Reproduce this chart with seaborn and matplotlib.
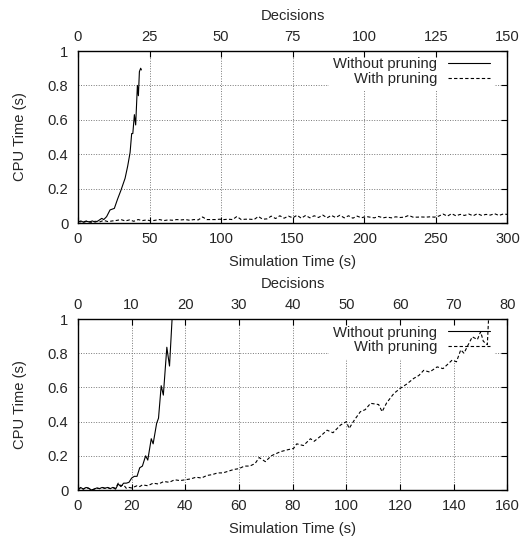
import matplotlib
matplotlib.use("Agg")
import matplotlib.pyplot as plt
import seaborn as sns
import numpy as np

# ---------------- data ----------------
# Top panel (Simulation time up to 300 s)
top_t_without = [0, 2, 4, 6, 8, 10, 12, 14, 16.6, 18, 20, 22.4, 25.4, 27.7, 30, 32.9,
                 34.7, 36.4, 37.5, 38.3, 39.4, 40.3, 41.5, 42.2, 42.9, 43.8, 44.3]
top_cpu_without = [0.005, 0.012, 0.004, 0.01, 0.006, 0.012, 0.005, 0.012, 0.027, 0.02,
                   0.037, 0.076, 0.085, 0.14, 0.19, 0.26, 0.33, 0.41, 0.52, 0.52,
                   0.63, 0.57, 0.80, 0.74, 0.88, 0.90, 0.89]

top_t_with = [0, 3, 6, 9, 12, 15, 18, 21, 24,
              27, 30, 33, 36, 39, 42, 45, 48, 51, 54, 57, 60, 63, 66, 69, 72, 75, 78, 81, 84, 87, 90,
              93, 96, 99, 102, 105, 108, 111, 114, 117, 120, 123, 126, 129,
              132, 135, 138, 141, 144, 147, 150, 153, 156, 159, 162, 165, 168, 171, 174, 177, 180,
              183, 186, 189, 192, 195, 198, 201,
              204, 207, 210, 213, 216, 219, 222, 225, 228, 231, 234, 237, 240, 243, 246, 249,
              252, 255, 258, 261, 264, 267, 270, 273, 276, 279, 282, 285, 288, 291, 294, 297, 300]
top_cpu_with = [0.01, 0.005, 0.012, 0.004, 0.01, 0.006, 0.015, 0.008, 0.012,
                0.015, 0.02, 0.012, 0.018, 0.01, 0.02, 0.014, 0.018, 0.012, 0.016, 0.02, 0.014,
                0.018, 0.016, 0.02, 0.018, 0.02, 0.016, 0.02, 0.018, 0.035, 0.02,
                0.02, 0.02, 0.022, 0.02, 0.022, 0.02, 0.038, 0.02, 0.022, 0.022, 0.02, 0.038, 0.022,
                0.024, 0.04, 0.026, 0.042, 0.028, 0.04, 0.03, 0.045, 0.028, 0.044, 0.03, 0.042,
                0.032, 0.046, 0.03, 0.044, 0.032, 0.045, 0.03, 0.042, 0.028, 0.04, 0.03, 0.038,
                0.034, 0.03, 0.038, 0.03, 0.034, 0.03, 0.036, 0.032, 0.034, 0.044, 0.034, 0.034,
                0.035, 0.034, 0.036, 0.034,
                0.04, 0.052, 0.04, 0.054, 0.042, 0.05, 0.044, 0.052, 0.042, 0.054, 0.044, 0.05,
                0.046, 0.054, 0.044, 0.052, 0.05]

# Bottom panel (Simulation time up to 160 s)
bot_t_without = [0, 1, 2, 3, 4, 5, 6, 7, 8, 9, 10, 11, 12, 13, 14, 15, 16, 17, 18, 19, 20,
                 21, 22, 23, 24, 25.2, 26, 27.3, 28, 29.3, 30, 31, 31.8, 33.1, 34.1, 35.4]
bot_cpu_without = [0.0, 0.015, 0.005, 0.015, 0.01, 0.0, 0.005, 0.012, 0.008, 0.015, 0.01,
                   0.015, 0.008, 0.015, 0.005, 0.035, 0.02, 0.04, 0.04, 0.045, 0.07, 0.08,
                   0.08, 0.13, 0.14, 0.20, 0.175, 0.30, 0.27, 0.39, 0.42, 0.61, 0.555,
                   0.835, 0.725, 1.1]

bot_t_with = [0, 1, 2, 3, 4, 5, 6, 7, 8, 9, 10, 11, 12, 13, 14, 15, 16, 17, 18, 19, 20,
              22, 23, 24, 26, 28, 30, 32, 34, 36, 38, 40, 42, 44, 46, 48, 50, 52, 54, 56, 58,
              60, 62, 64, 66, 67.5, 69.8, 72, 75.4, 78, 80.3, 81.5, 84, 86.6, 88, 90, 92.8,
              95, 97.8, 100, 101, 103, 105.2, 107, 109, 112, 113.3, 115, 117.7, 120.1, 122.5,
              125.1, 127, 128.8, 131, 133.8, 136, 139.4, 141, 142.6, 143.8, 145, 146.9, 148.8,
              150, 151, 152.5, 153.1]
bot_cpu_with = [0.0, 0.015, 0.005, 0.015, 0.01, 0.0, 0.005, 0.012, 0.008, 0.015, 0.01,
                0.015, 0.008, 0.015, 0.01, 0.04, 0.025, 0.03, 0.01, 0.015, 0.012,
                0.025, 0.02, 0.03, 0.025, 0.04, 0.035, 0.05, 0.045, 0.06, 0.055, 0.06, 0.065,
                0.075, 0.07, 0.085, 0.09, 0.10, 0.10, 0.11, 0.12, 0.125, 0.14, 0.14, 0.155,
                0.19, 0.166, 0.20, 0.224, 0.235, 0.243, 0.27, 0.26, 0.30, 0.285, 0.31, 0.35,
                0.335, 0.38, 0.40, 0.36, 0.41, 0.458, 0.47, 0.507, 0.50, 0.458, 0.51, 0.565,
                0.595, 0.62, 0.653, 0.67, 0.70, 0.69, 0.72, 0.71, 0.76, 0.75, 0.82, 0.80,
                0.838, 0.896, 0.88, 0.926, 0.87, 0.85, 1.05]

panels = [
    dict(t_wo=top_t_without, c_wo=top_cpu_without, t_w=top_t_with, c_w=top_cpu_with,
         xmax=300, xticks=[0, 50, 100, 150, 200, 250, 300],
         dticks=[0, 25, 50, 75, 100, 125, 150], dmax=150),
    dict(t_wo=bot_t_without, c_wo=bot_cpu_without, t_w=bot_t_with, c_w=bot_cpu_with,
         xmax=160, xticks=[0, 20, 40, 60, 80, 100, 120, 140, 160],
         dticks=[0, 10, 20, 30, 40, 50, 60, 70, 80], dmax=80),
]
yticks = [0, 0.2, 0.4, 0.6, 0.8, 1]
ytick_labels = ["0", "0.2", "0.4", "0.6", "0.8", "1"]
series_labels = ["Without pruning", "With pruning"]

# ---------------- style ----------------
sns.set_style("white")
plt.rcParams['font.family'] = ['Liberation Sans', 'DejaVu Sans']
FS = 10.6
plt.rcParams['font.size'] = FS

fig = plt.figure(figsize=(5.23, 5.38), dpi=100)
positions = [[0.1491, 0.5855, 0.8212, 0.3197], [0.1491, 0.0892, 0.8212, 0.3178]]

dash = (0, (3.0, 2.0))
for pos, p in zip(positions, panels):
    ax = fig.add_axes(pos)
    sns.lineplot(x=p["t_wo"], y=p["c_wo"], ax=ax, color="black", lw=0.8,
                 estimator=None, sort=False, label=series_labels[0], zorder=2)
    sns.lineplot(x=p["t_w"], y=p["c_w"], ax=ax, color="black", lw=0.8,
                 linestyle=dash, estimator=None, sort=False, label=series_labels[1], zorder=2)
    ax.set_xlim(0, p["xmax"])
    ax.set_ylim(0, 1)
    ax.set_xticks(p["xticks"])
    ax.set_xticklabels([str(v) for v in p["xticks"]])
    ax.set_yticks(yticks)
    ax.set_yticklabels(ytick_labels)
    ax.set_axisbelow(True)
    ax.grid(True, color="#777777", lw=0.7, linestyle=(0, (1, 1.6)))
    ax.tick_params(axis="both", direction="in", length=4, width=0.8, color="black",
                   labelsize=FS, top=False, right=True)
    ax.tick_params(axis="x", pad=6.5)
    ax.tick_params(axis="y", pad=7)
    for s in ax.spines.values():
        s.set_color("black")
        s.set_linewidth(1.0)
        s.set_zorder(3)
    ax.set_xlabel("Simulation Time (s)", fontsize=FS, labelpad=6.3)
    ax.set_ylabel("CPU Time (s)", fontsize=FS, labelpad=15)

    leg = ax.legend(loc="upper right", bbox_to_anchor=(0.9686, 0.988), borderaxespad=0,
                    markerfirst=False, frameon=True, fontsize=FS,
                    handlelength=2.8, handletextpad=0.75, labelspacing=0.05,
                    borderpad=0.3)
    leg.get_frame().set_facecolor("white")
    leg.get_frame().set_edgecolor("none")
    leg.get_frame().set_alpha(1.0)
    leg.set_zorder(1)

    ax2 = ax.twiny()
    ax2.set_xlim(0, p["dmax"])
    ax2.set_xticks(p["dticks"])
    ax2.set_xticklabels([str(v) for v in p["dticks"]])
    ax2.tick_params(axis="x", direction="in", length=4, width=0.8, color="black",
                    labelsize=FS, pad=5)
    ax2.set_xlabel("Decisions", fontsize=FS, labelpad=7.5)
    for s in ax2.spines.values():
        s.set_visible(False)

fig.savefig("out.png", dpi=100)
